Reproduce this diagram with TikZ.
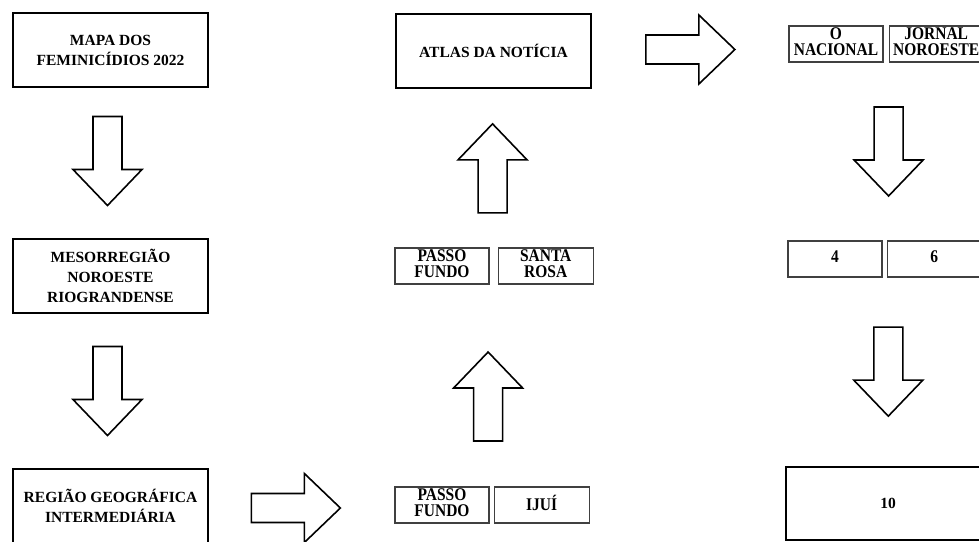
\documentclass[tikz,border=0pt]{standalone}
\usepackage{fontspec}
\setmainfont{Liberation Serif}
\usetikzlibrary{positioning, calc}

% texto das caixas pequenas, um pouco esticado na vertical
\newcommand{\esticado}[1]{\scalebox{1}[1.15]{\begin{tabular}{@{}c@{}}#1\end{tabular}}}

\tikzset{
  bigbox/.style={draw, line width=2.6pt, minimum width=195pt, minimum height=74pt,
    inner sep=0pt, align=center, font=\fontsize{15.5}{20}\selectfont\bfseries},
  smallbox/.style={draw=black!75, line width=1.2pt, minimum width=94pt, minimum height=36pt,
    inner sep=0pt, align=center, font=\fontsize{15.5}{13.5}\selectfont\bfseries},
  blockarrow/.pic={
    \draw[line width=1.6pt, fill=white]
      (-44.5,-14.5) -- (8.5,-14.5) -- (8.5,-34.5) -- (44.5,0)
      -- (8.5,34.5) -- (8.5,14.5) -- (-44.5,14.5) -- cycle;
  }
}

\begin{document}
\begin{tikzpicture}[x=1pt, y=-1pt]
  \useasboundingbox (0,0) rectangle (979,541);
  \clip (0,0) rectangle (979,541);
  % coluna esquerda
  \node[bigbox] (mapa) at (110.5,50) {MAPA DOS\\FEMINICÍDIOS 2022};
  \node[bigbox] (meso) at (110.5,276) {MESORREGIÃO\\NOROESTE\\RIOGRANDENSE};
  \node[bigbox] (regiao) at (110.5,506) {REGIÃO GEOGRÁFICA\\INTERMEDIÁRIA};
  % coluna central
  \node[smallbox] (pfb) at (442,505) {\esticado{PASSO\\FUNDO}};
  \node[smallbox, right=4pt of pfb, minimum width=95pt] (ijui) {\esticado{IJUÍ}};
  \node[smallbox] (pfa) at (442,266) {\esticado{PASSO\\FUNDO}};
  \node[smallbox, right=8pt of pfa, minimum width=95pt] (sr) {\esticado{SANTA\\ROSA}};
  \node[bigbox] (atlas) at (493.5,51) {ATLAS DA NOTÍCIA};
  % coluna direita
  \node[smallbox] (onac) at (836,44) {\esticado{O\\NACIONAL}};
  \node[smallbox, right=5pt of onac] (jornal) {\esticado{JORNAL\\NOROESTE}};
  \node[smallbox] (quatro) at (835,259) {\esticado{4}};
  \node[smallbox, right=4pt of quatro] (seis) {\esticado{6}};
  \node[bigbox, minimum width=204pt, minimum height=73pt] (dez) at (888,503.5) {10};
  % setas
  \pic[rotate=-90] at ($(mapa.south)!0.5!(meso.north)+(-3,-2)$) {blockarrow};
  \pic[rotate=-90] at ($(meso.south)!0.5!(regiao.north)+(-3,0)$) {blockarrow};
  \pic at ($(regiao.east)!0.5!(pfb.west)+(-6,2.5)$) {blockarrow};
  \pic[rotate=90] at ($(pfb.north east)!0.5!(sr.south west)+(-5.5,11)$) {blockarrow};
  \pic[rotate=90] at ($(atlas.south)!0.5!(pfa.north east)+(1,0)$) {blockarrow};
  \pic at ($(atlas.east)!0.5!(onac.west)+(0,2)$) {blockarrow};
  \pic[rotate=-90] at ($(onac.south east)!0.5!(quatro.north east)+(5.5,0)$) {blockarrow};
  \pic[rotate=-90] at ($(quatro.south east)!0.5!(dez.north)+(3,0)$) {blockarrow};
\end{tikzpicture}
\end{document}
